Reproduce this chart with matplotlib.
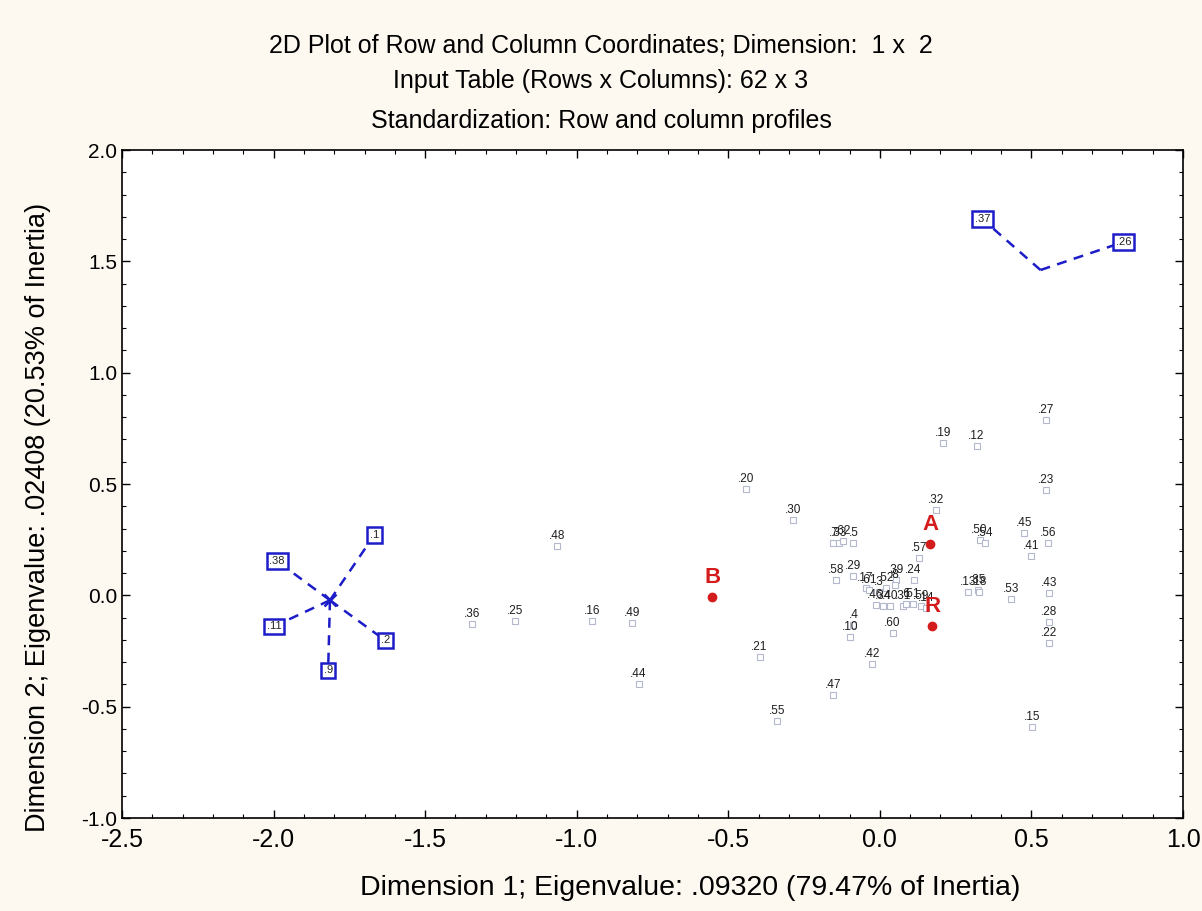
import matplotlib
matplotlib.use("Agg")
import matplotlib.pyplot as plt
from matplotlib.ticker import MultipleLocator

# Row points (label, dim1, dim2)
row_labels = ["27", "19", "12", "23", "20", "30", "32", "48", "7", "33", "62", "5",
              "57", "50", "54", "45", "56", "41", "58", "29", "17", "61", "3", "52",
              "39", "8", "24", "13", "35", "18", "53", "43", "46", "34", "40", "31",
              "6", "51", "59", "14", "4", "10", "60", "28", "22", "36", "25", "16",
              "49", "21", "42", "44", "47", "55", "15"]
row_x = [0.547, 0.207, 0.319, 0.547, -0.443, -0.285, 0.184, -1.064, -0.153, -0.136, -0.120, -0.087,
         0.128, 0.329, 0.346, 0.475, 0.554, 0.498, -0.146, -0.090, -0.047, -0.037, -0.004, 0.019,
         0.052, 0.049, 0.111, 0.290, 0.323, 0.326, 0.432, 0.557, -0.014, 0.009, 0.035, 0.075,
         0.085, 0.108, 0.135, 0.151, -0.087, -0.097, 0.042, 0.557, 0.557, -1.344, -1.203, -0.948,
         -0.816, -0.397, -0.027, -0.796, -0.153, -0.338, 0.501]
row_y = [0.787, 0.683, 0.670, 0.472, 0.476, 0.337, 0.382, 0.220, 0.234, 0.234, 0.243, 0.234,
         0.166, 0.247, 0.234, 0.279, 0.234, 0.175, 0.067, 0.085, 0.031, 0.022, 0.013, 0.031,
         0.067, 0.045, 0.067, 0.013, 0.022, 0.013, -0.018, 0.009, -0.045, -0.049, -0.049, -0.049,
         -0.040, -0.040, -0.049, -0.058, -0.135, -0.189, -0.171, -0.121, -0.216, -0.130, -0.117, -0.117,
         -0.126, -0.279, -0.310, -0.400, -0.449, -0.566, -0.593]

# Boxed (grouped) row points
star_labels = ["1", "38", "11", "2", "9"]
star_x = [-1.668, -1.988, -1.998, -1.632, -1.820]
star_y = [0.270, 0.153, -0.139, -0.202, -0.337]
star_center = (-1.814, -0.022)

vee_labels = ["37", "26"]
vee_x = [0.338, 0.804]
vee_y = [1.690, 1.587]
vee_center = (0.530, 1.461)

# Column points
col_labels = ["A", "B", "R"]
col_x = [0.167, -0.553, 0.173]
col_y = [0.229, -0.009, -0.139]

xticks = [-2.5, -2.0, -1.5, -1.0, -0.5, 0.0, 0.5, 1.0]
yticks = [-1.0, -0.5, 0.0, 0.5, 1.0, 1.5, 2.0]

W, H = 1202, 911
fig = plt.figure(figsize=(W / 100, H / 100), dpi=100, facecolor="#fdf8f0")
ax = fig.add_axes([122 / W, 1 - 818 / H, (1183 - 122) / W, (818 - 150) / H])
ax.set_facecolor("white")

sans = ["Liberation Sans", "DejaVu Sans"]

blue = "#1c1cc8"
red = "#d41c1c"

# dashed spokes
for x, y in zip(star_x, star_y):
    ax.plot([star_center[0], x], [star_center[1], y], ls=(0, (4, 3)), color=blue, lw=1.8, zorder=2)
ax.plot([star_center[0]], [star_center[1]], marker="x", color=blue, ms=9, mew=1.8, zorder=3)
for x, y in zip(vee_x, vee_y):
    ax.plot([vee_center[0], x], [vee_center[1], y], ls=(0, (4, 3)), color=blue, lw=1.8, zorder=2)

# boxed labels
for lab, x, y in zip(star_labels + vee_labels, star_x + vee_x, star_y + vee_y):
    ax.text(x, y, "." + lab, ha="center", va="center", fontsize=8, family=sans, color="#222222",
            zorder=5,
            bbox=dict(boxstyle="square,pad=0.25", fc="white", ec=blue, lw=1.8))

# row points
ax.plot(row_x, row_y, ls="none", marker="s", ms=4.5, mfc="white", mec="#b4b8cc", mew=0.8, zorder=3)
for lab, x, y in zip(row_labels, row_x, row_y):
    ax.annotate("." + lab, (x, y), xytext=(0, 3), textcoords="offset points",
                ha="center", va="bottom", fontsize=8.5, family=sans, color="#1e1e1e", zorder=4)

# column points
ax.plot(col_x, col_y, ls="none", marker="o", ms=6, color=red, zorder=6)
for lab, x, y in zip(col_labels, col_x, col_y):
    ax.annotate(lab, (x, y), xytext=(0, 7), textcoords="offset points",
                ha="center", va="bottom", fontsize=16, fontweight="bold", family=sans,
                color=red, zorder=6)

ax.set_xlim(-2.5, 1.0)
ax.set_ylim(-1.0, 2.0)
ax.set_xticks(xticks)
ax.set_yticks(yticks)
ax.set_xticklabels([f"{t:.1f}" for t in xticks], family=sans, fontsize=18)
ax.set_yticklabels([f"{t:.1f}" for t in yticks], family=sans, fontsize=15)
ax.xaxis.set_minor_locator(MultipleLocator(0.1))
ax.yaxis.set_minor_locator(MultipleLocator(0.1))
ax.tick_params(which="both", direction="in", top=True, right=True, colors="black")
ax.tick_params(which="major", length=6, width=1)
ax.tick_params(which="minor", length=3, width=0.8)
ax.tick_params(axis="x", pad=7)
for s in ax.spines.values():
    s.set_linewidth(1.2)

fig.text(601 / W, 1 - 46 / H, "2D Plot of Row and Column Coordinates; Dimension:  1 x  2",
         ha="center", va="center", fontsize=18, family=sans)
fig.text(601 / W, 1 - 81 / H, "Input Table (Rows x Columns): 62 x 3",
         ha="center", va="center", fontsize=18, family=sans)
fig.text(601 / W, 1 - 121 / H, "Standardization: Row and column profiles",
         ha="center", va="center", fontsize=18, family=sans)
fig.text(690 / W, 1 - 888 / H, "Dimension 1; Eigenvalue: .09320 (79.47% of Inertia)",
         ha="center", va="center", fontsize=20.5, family=sans)
fig.text(38 / W, 1 - 517 / H, "Dimension 2; Eigenvalue: .02408 (20.53% of Inertia)",
         ha="center", va="center", rotation=90, fontsize=19.5, family=sans)

fig.savefig("out.png", dpi=100, facecolor=fig.get_facecolor())
